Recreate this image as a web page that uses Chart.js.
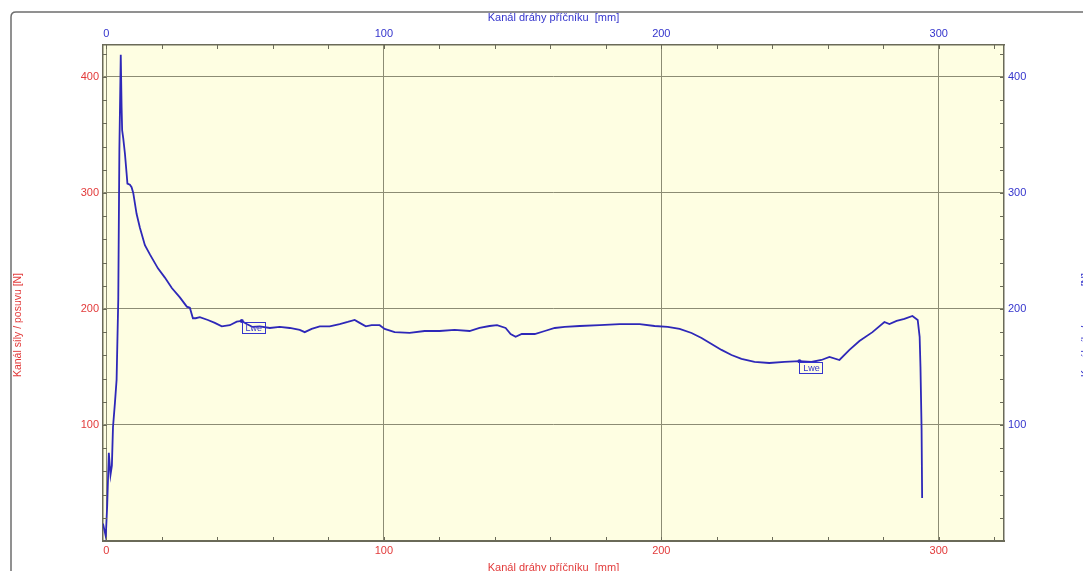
<!DOCTYPE html>
<html><head><meta charset="utf-8">
<script src="https://cdn.jsdelivr.net/npm/chart.js@4.4.0/dist/chart.umd.min.js"></script>
<style>
html,body{margin:0;padding:0;background:#fff;overflow:hidden;width:1083px;height:571px}
#wrap{position:absolute;left:0;top:0;width:1100px;height:585px}
</style>
</head><body><div id="wrap"><canvas id="c" width="1100" height="585"></canvas></div>
<script>
const xTitle = 'Kanál dráhy příčníku  [mm]';
const yTitle = 'Kanál síly / posuvu [N]';
const xTicks = [0, 100, 200, 300];
const yTicks = [100, 200, 300, 400];
const minorStep = 20;
const pathMm = [-1.2,-0.2,0.3,0.9,1.5,2.0,2.4,3.1,3.7,4.3,4.7,5.2,5.5,5.7,6.1,6.7,7.3,7.6,8.5,9.1,9.7,10.9,12.1,13.9,15.7,18.6,21.1,23.6,26.5,29.0,30.1,31.2,32.2,33.7,36.6,39.1,41.6,44.5,47.0,48.8,50.6,52.7,55.3,58.9,62.5,66.1,69.7,71.5,74.0,76.9,80.5,84.1,87.0,89.5,91.3,93.5,95.6,98.5,100.3,103.9,109.3,114.7,120.1,125.5,130.9,134.5,138.1,140.8,143.9,145.7,147.5,149.7,154.4,158.0,161.6,165.2,170.6,177.8,185.0,192.2,197.6,202.3,206.6,210.9,214.5,218.1,221.7,225.3,228.9,233.6,238.9,244.4,249.8,254.1,257.7,260.6,264.2,267.8,271.4,276.1,280.4,282.2,284.8,287.6,290.5,292.4,293.1,293.4,293.8,294.0];
const forceN = [15,4,30,76,57,65,98,119,139,208,337,419,374,354,347,334,317,308,307,305,300,282,270,255,247,235,227,218,210,202,201,192,192,193,190.5,188,185,186,189,189.7,187,184.5,185,183.6,184.5,183.6,182,180,182.8,185,185,187,188.8,190.5,188,185,186,186,182.8,180,179.3,181,181,182,181,183.6,185.3,186,183.6,178.4,176,178.4,178.4,181,183.6,184.5,185.3,186,187,187,185.3,184.5,182.8,179.3,175,169.8,164.7,160.3,157,154.3,153.4,154.3,155,154.3,156,158.6,156,164.7,172.4,180,188.8,187,189.7,191.4,194,190.5,176,150,95.7,37];
const lweMm = [48.8, 249.8];
const lweN = [189.7, 155];
const lweLabels = ['Lwe', 'Lwe'];

const RED = '#e23a3a', BLUE = '#3434cc', LINE = '#2e28b8';
const GRID = '#8c8c74', BORDER = '#6a6a58', BG = '#fefee2';
const FONT = 'Liberation Sans, Arial, sans-serif';

const setTicks = vals => s => { s.ticks = vals.map(v => ({value: v})); };

const decor = {
  id: 'decor',
  beforeDraw(chart) {
    const {ctx, chartArea: a} = chart;
    ctx.save();
    ctx.strokeStyle = '#6e6e6e'; ctx.lineWidth = 1.5;
    ctx.beginPath();
    ctx.moveTo(11, 600); ctx.lineTo(11, 17); ctx.quadraticCurveTo(11, 12, 16, 12); ctx.lineTo(1110, 12);
    ctx.stroke();
    ctx.fillStyle = BG;
    ctx.fillRect(a.left, a.top, a.right - a.left, a.bottom - a.top);
    ctx.restore();
  },
  afterDraw(chart) {
    const {ctx, chartArea: a, scales} = chart;
    const xs = scales.x, ys = scales.y;
    ctx.save();
    ctx.strokeStyle = BORDER; ctx.lineWidth = 1;
    ctx.beginPath();
    for (let v = 0; v <= xs.max; v += minorStep) {
      const p = Math.round(xs.getPixelForValue(v)) + 0.5;
      ctx.moveTo(p, a.bottom); ctx.lineTo(p, a.bottom - 4);
      ctx.moveTo(p, a.top); ctx.lineTo(p, a.top + 4);
    }
    for (let v = 0; v <= ys.max; v += minorStep) {
      const p = Math.round(ys.getPixelForValue(v)) + 0.5;
      ctx.moveTo(a.left, p); ctx.lineTo(a.left + 4, p);
      ctx.moveTo(a.right, p); ctx.lineTo(a.right - 4, p);
    }
    ctx.stroke();
    ctx.font = '9px ' + FONT;
    ctx.textAlign = 'center'; ctx.textBaseline = 'middle';
    for (let i = 0; i < lweMm.length; i++) {
      const px = xs.getPixelForValue(lweMm[i]), py = ys.getPixelForValue(lweN[i]);
      ctx.fillStyle = LINE;
      ctx.beginPath(); ctx.arc(px, py, 2, 0, Math.PI * 2); ctx.fill();
      ctx.strokeStyle = BLUE; ctx.lineWidth = 1;
      ctx.strokeRect(Math.round(px) + 0.5, Math.round(py) + 1.5, 23, 11);
      ctx.fillStyle = BLUE;
      ctx.fillText(lweLabels[i], px + 12, py + 7.5);
    }
    const side = (text, cx, cy, color) => {
      ctx.save();
      ctx.translate(cx, cy); ctx.rotate(-Math.PI / 2);
      ctx.font = '11px ' + FONT;
      const w = ctx.measureText(text).width;
      ctx.scale(104 / w, 1);
      ctx.fillStyle = color; ctx.textAlign = 'center'; ctx.textBaseline = 'middle';
      ctx.fillText(text, 0, 0);
      ctx.restore();
    };
    side(yTitle, 18, 325, RED);
    side(yTitle, 1086, 325, BLUE);
    ctx.restore();
  }
};

new Chart(document.getElementById('c'), {
  type: 'line',
  data: {
    datasets: [{
      data: pathMm.map((x, i) => ({x, y: forceN[i]})),
      borderColor: LINE, borderWidth: 1.8, pointRadius: 0, tension: 0, fill: false
    }]
  },
  options: {
    responsive: false, animation: false, events: [],
    layout: {padding: 0},
    plugins: {legend: {display: false}, tooltip: {enabled: false}},
    scales: {
      x: {
        type: 'linear', position: 'bottom', min: -1.2, max: 323.5,
        afterBuildTicks: setTicks(xTicks),
        afterFit: s => { s.height = 44; },
        grid: {color: GRID, lineWidth: 1, drawTicks: false},
        border: {display: true, color: BORDER, width: 2},
        ticks: {color: RED, font: {size: 11, family: FONT}, padding: 3, maxRotation: 0},
        title: {display: true, text: xTitle, color: RED, font: {size: 11, family: FONT}, padding: {top: 0, bottom: 10}}
      },
      x2: {
        type: 'linear', position: 'top', min: -1.2, max: 323.5,
        afterBuildTicks: setTicks(xTicks),
        afterFit: s => { s.height = 45; },
        grid: {display: false, drawTicks: false},
        border: {display: true, color: BORDER, width: 1.5},
        ticks: {color: BLUE, font: {size: 11, family: FONT}, padding: 4, maxRotation: 0},
        title: {display: true, text: xTitle, color: BLUE, font: {size: 11, family: FONT}, padding: {top: 11, bottom: 0}}
      },
      y: {
        type: 'linear', position: 'left', min: 0, max: 427.5,
        afterBuildTicks: setTicks(yTicks),
        afterFit: s => { s.width = 103; },
        grid: {color: GRID, lineWidth: 1, drawTicks: false},
        border: {display: true, color: BORDER, width: 1.5},
        ticks: {color: RED, font: {size: 11, family: FONT}, padding: 4}
      },
      y2: {
        type: 'linear', position: 'right', min: 0, max: 427.5,
        afterBuildTicks: setTicks(yTicks),
        afterFit: s => { s.width = 96; },
        grid: {display: false, drawTicks: false},
        border: {display: true, color: BORDER, width: 1.5},
        ticks: {color: BLUE, font: {size: 11, family: FONT}, padding: 4}
      }
    }
  },
  plugins: [decor]
});
</script>
</body></html>
